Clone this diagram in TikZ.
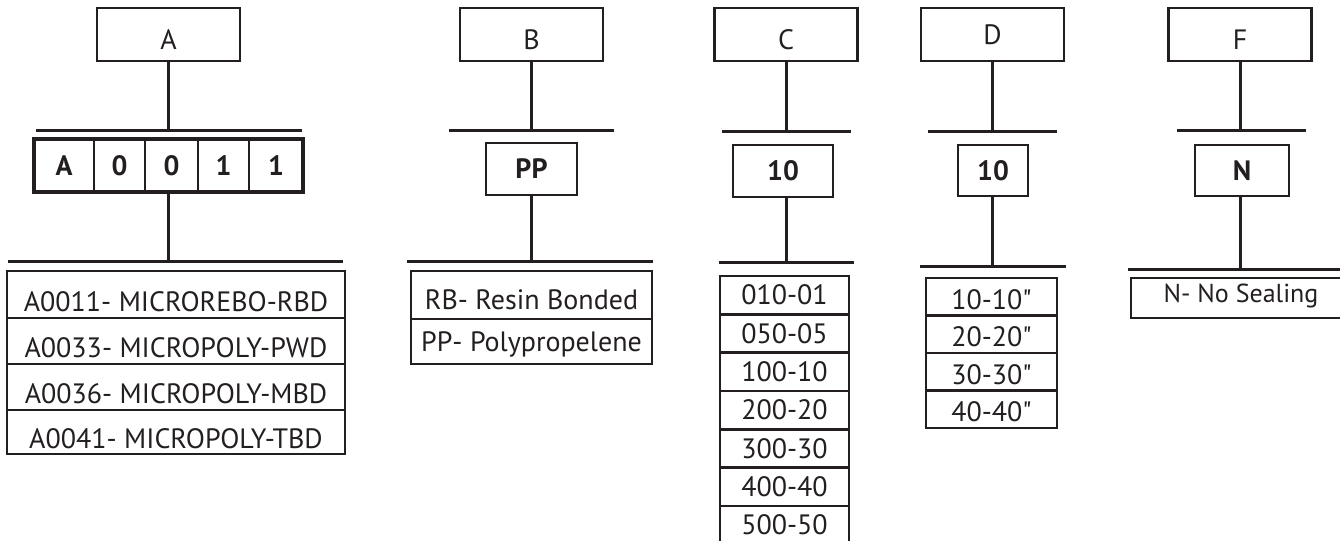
\documentclass[tikz,border=0pt]{standalone}
\usepackage{fontspec}
\setmainfont{PT Sans}[Ligatures=TeXOff]
\usetikzlibrary{positioning}
\definecolor{pcink}{HTML}{231F20}
\tikzset{
  hdr/.style={draw=pcink,line width=1.2pt,minimum width=71.5pt,minimum height=26.5pt,inner sep=0pt,outer sep=0pt,text height=14.8pt,text depth=0pt},
  codebox/.style={draw=pcink,line width=1.2pt,minimum height=26pt,inner sep=0pt,outer sep=0pt,font=\fontsize{14}{16}\selectfont\bfseries,text height=9.8pt,text depth=0pt},
  cell/.style={draw=pcink,line width=1.1pt,minimum height=26.5pt,inner sep=0pt,outer sep=0pt,font=\fontsize{14}{16}\selectfont\bfseries,text height=9.8pt,text depth=0pt},
  codeedge/.style={draw=pcink,line width=1.9pt},
  optrow/.style={draw=pcink,line width=1.3pt,inner sep=0pt,outer sep=0pt,anchor=north,text height=9.8pt,text depth=0pt},
  wire/.style={draw=pcink,line width=1.5pt},
  bar/.style={wire},
}
\begin{document}
\begin{tikzpicture}[x=0.5pt,y=-0.5pt,font=\fontsize{14}{16}\selectfont,pcink]
  \useasboundingbox (0,0) rectangle (1340,541);
  % header boxes
  \foreach \n/\x in {A/168.5,B/531.5,C/786,F/1240}
    \node[hdr] (h\n) at (\x,34.5) {\n};
  \node[hdr,text height=9.8pt] (hD) at (992.5,34.5) {D};

  % column A
  \coordinate (jA1) at (168.5,130);
  \coordinate (jA2) at (168.5,261);
  \draw[bar] (36,130) -- (302,130);
  \draw[wire] (hA.south) -- (jA1);
  \foreach \t/\l/\r [count=\i] in {A/34/94,0/94/145,0/145/198,1/198/249,1/249/303}
    \node[cell,minimum width={(\r-\l)*0.5pt}] (cA\i) at ({(\l+\r)/2},165.5) {\t};
  \draw[codeedge] (cA1.north west) rectangle (cA5.south east);
  \draw[wire] (cA3.south -| jA1) -- (jA2);
  \draw[bar] (8,261) -- (343,261);
  \foreach \t/\y/\h [count=\i] in {A0011- MICROREBO-RBD/271/47,A0033- MICROPOLY-PWD/318/46,A0036- MICROPOLY-MBD/364/46,A0041- MICROPOLY-TBD/410/44}
    \node[optrow,minimum width=169pt,minimum height={\h*0.5pt},text height=16.6pt] (lA\i) at (176,\y) {\t};

  % column B
  \coordinate (jB1) at (531.5,130);
  \coordinate (jB2) at (531.5,261);
  \draw[bar] (449,130) -- (614,130);
  \draw[wire] (hB.south) -- (jB1);
  \node[codebox,minimum width=45.5pt] (cB) at (531.5,169) {PP};
  \draw[wire] (cB.south) -- (jB2);
  \draw[bar] (407,261) -- (653,261);
  \foreach \t/\y/\h/\th [count=\i] in {RB- Resin Bonded/271/48/14.8pt,PP- Polypropelene/319/45/9.8pt}
    \node[optrow,minimum width=120.5pt,minimum height={\h*0.5pt},text height=\th] (lB\i) at (531.5,\y) {\t};

  % column C
  \coordinate (jC1) at (786,131);
  \coordinate (jC2) at (786,262);
  \draw[bar] (722,131) -- (851,131);
  \draw[wire] (hC.south) -- (jC1);
  \node[codebox,minimum width=50pt] (cC) at (783,171) {10};
  \draw[wire] (cC.south -| jC1) -- (jC2);
  \draw[bar] (719,262) -- (854,262);
  \foreach \t [count=\i] in {010-01,050-05,100-10,200-20,300-30,400-40,500-50}
    \node[optrow,minimum width=64.5pt,minimum height=19.15pt] (lC\i) at (784.5,{276+38.3*(\i-1)}) {\t};

  % column D
  \coordinate (jD1) at (992.5,131);
  \coordinate (jD2) at (992.5,266);
  \draw[bar] (928,131) -- (1057,131);
  \draw[wire] (hD.south) -- (jD1);
  \node[codebox,minimum width=35pt,minimum height=25.5pt] (cD) at (993,170.5) {10};
  \draw[wire] (cD.south -| jD1) -- (jD2);
  \draw[bar] (920,266) -- (1066,266);
  \foreach \t [count=\i] in {10-10",20-20",30-30",40-40"}
    \node[optrow,minimum width=65.5pt,minimum height=18.75pt,text height=12.3pt] (lD\i) at (991.5,{278+37.5*(\i-1)}) {\t};

  % column F
  \coordinate (jF1) at (1240,130);
  \coordinate (jF2) at (1240,269);
  \draw[bar] (1177,130) -- (1306,130);
  \draw[wire] (hF.south) -- (jF1);
  \node[codebox,minimum width=47pt,minimum height=25.5pt] (cF) at (1242,170.5) {N};
  \draw[wire] (cF.south -| jF1) -- (jF2);
  \draw[bar] (1128,269) -- (1345,269);
  \node[optrow,minimum width=110pt,minimum height=20pt,text height=9.1pt,text depth=4.4pt,font=\fontsize{13}{15}\selectfont] (lF1) at (1241,278) {N- No Sealing};
\end{tikzpicture}
\end{document}
